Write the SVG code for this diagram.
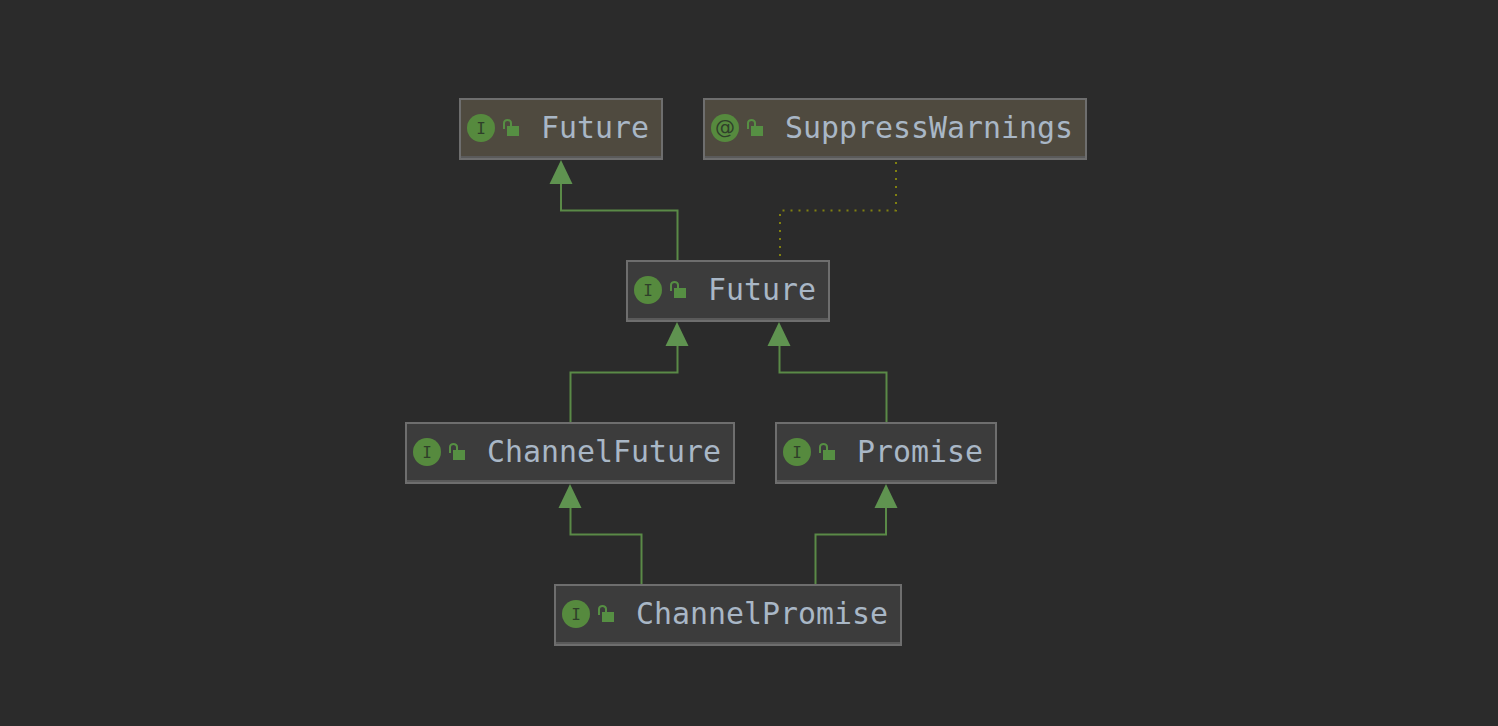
<svg xmlns="http://www.w3.org/2000/svg" width="1498" height="726" viewBox="0 0 1498 726">
<style>
.bg{fill:#2b2b2b}
.box{fill:#3c3c3c;stroke:#6e6e6e;stroke-width:2}
.ann{fill:#4f4a3f}
.bot{fill:#5a5a5a}
.ic{fill:#568a3e}
.g{fill:#2f3f2a;font:16px "DejaVu Sans Mono",monospace;text-anchor:middle}
.at{fill:#2f3f2a;font:20px "DejaVu Sans",sans-serif;text-anchor:middle}
.lb{fill:#568f43}
.sh{fill:none;stroke:#568f43;stroke-width:2}
.t{fill:#a9b7c6;font-family:"DejaVu Sans Mono",monospace;font-size:29.9px}
.e{fill:none;stroke:#5a8a47;stroke-width:2}
.d{fill:none;stroke:#808010;stroke-width:2;stroke-dasharray:2 6}
.a{fill:#5f9350}
</style>
<rect class="bg" width="1498" height="726"/>
<g id="connectors">
<path class="e" d="M561 184V210.500H677.500V260"/>
<path class="d" d="M896 162V210.500H780V258"/>
<path class="e" d="M677.500 346V372.500H570.500V422"/>
<path class="e" d="M779.500 346V372.500H886.500V422"/>
<path class="e" d="M570.500 508V534.500H641.500V584"/>
<path class="e" d="M886 508V534.500H815.500V584"/>
<path class="a" d="M561 160L572.500 184H549.500Z"/>
<path class="a" d="M677 322L688.500 346H665.500Z"/>
<path class="a" d="M779 322L790.500 346H767.500Z"/>
<path class="a" d="M570 484L581.500 508H558.500Z"/>
<path class="a" d="M886 484L897.500 508H874.500Z"/>
</g>
<g id="n1">
<rect class="box ann" x="460" y="99" width="202" height="60"/><rect class="bot" x="461" y="156" width="200" height="2"/>
<circle class="ic" cx="481" cy="128" r="14"/><text class="g" x="481" y="133.500">I</text>
<rect class="lb" x="507" y="126" width="12" height="10"/><path class="sh" d="M504 129V123a3.500 3 0 0 1 7 0V126"/>
<text class="t" x="541" y="138">Future</text>
</g>
<g id="n2">
<rect class="box ann" x="704" y="99" width="382" height="60"/><rect class="bot" x="705" y="156" width="380" height="2"/>
<circle class="ic" cx="725" cy="128" r="14"/><text class="at" x="725" y="134">@</text>
<rect class="lb" x="751" y="126" width="12" height="10"/><path class="sh" d="M748 129V123a3.500 3 0 0 1 7 0V126"/>
<text class="t" x="785" y="138">SuppressWarnings</text>
</g>
<g id="n3">
<rect class="box" x="627" y="261" width="202" height="60"/><rect class="bot" x="628" y="318" width="200" height="2"/>
<circle class="ic" cx="648" cy="290" r="14"/><text class="g" x="648" y="295.500">I</text>
<rect class="lb" x="674" y="288" width="12" height="10"/><path class="sh" d="M671 291V285a3.500 3 0 0 1 7 0V288"/>
<text class="t" x="708" y="300">Future</text>
</g>
<g id="n4">
<rect class="box" x="406" y="423" width="328" height="60"/><rect class="bot" x="407" y="480" width="326" height="2"/>
<circle class="ic" cx="427" cy="452" r="14"/><text class="g" x="427" y="457.500">I</text>
<rect class="lb" x="453" y="450" width="12" height="10"/><path class="sh" d="M450 453V447a3.500 3 0 0 1 7 0V450"/>
<text class="t" x="487" y="462">ChannelFuture</text>
</g>
<g id="n5">
<rect class="box" x="776" y="423" width="220" height="60"/><rect class="bot" x="777" y="480" width="218" height="2"/>
<circle class="ic" cx="797" cy="452" r="14"/><text class="g" x="797" y="457.500">I</text>
<rect class="lb" x="823" y="450" width="12" height="10"/><path class="sh" d="M820 453V447a3.500 3 0 0 1 7 0V450"/>
<text class="t" x="857" y="462">Promise</text>
</g>
<g id="n6">
<rect class="box" x="555" y="585" width="346" height="60"/><rect class="bot" x="556" y="642" width="344" height="2"/>
<circle class="ic" cx="576" cy="614" r="14"/><text class="g" x="576" y="619.500">I</text>
<rect class="lb" x="602" y="612" width="12" height="10"/><path class="sh" d="M599 615V609a3.500 3 0 0 1 7 0V612"/>
<text class="t" x="636" y="624">ChannelPromise</text>
</g>
</svg>
